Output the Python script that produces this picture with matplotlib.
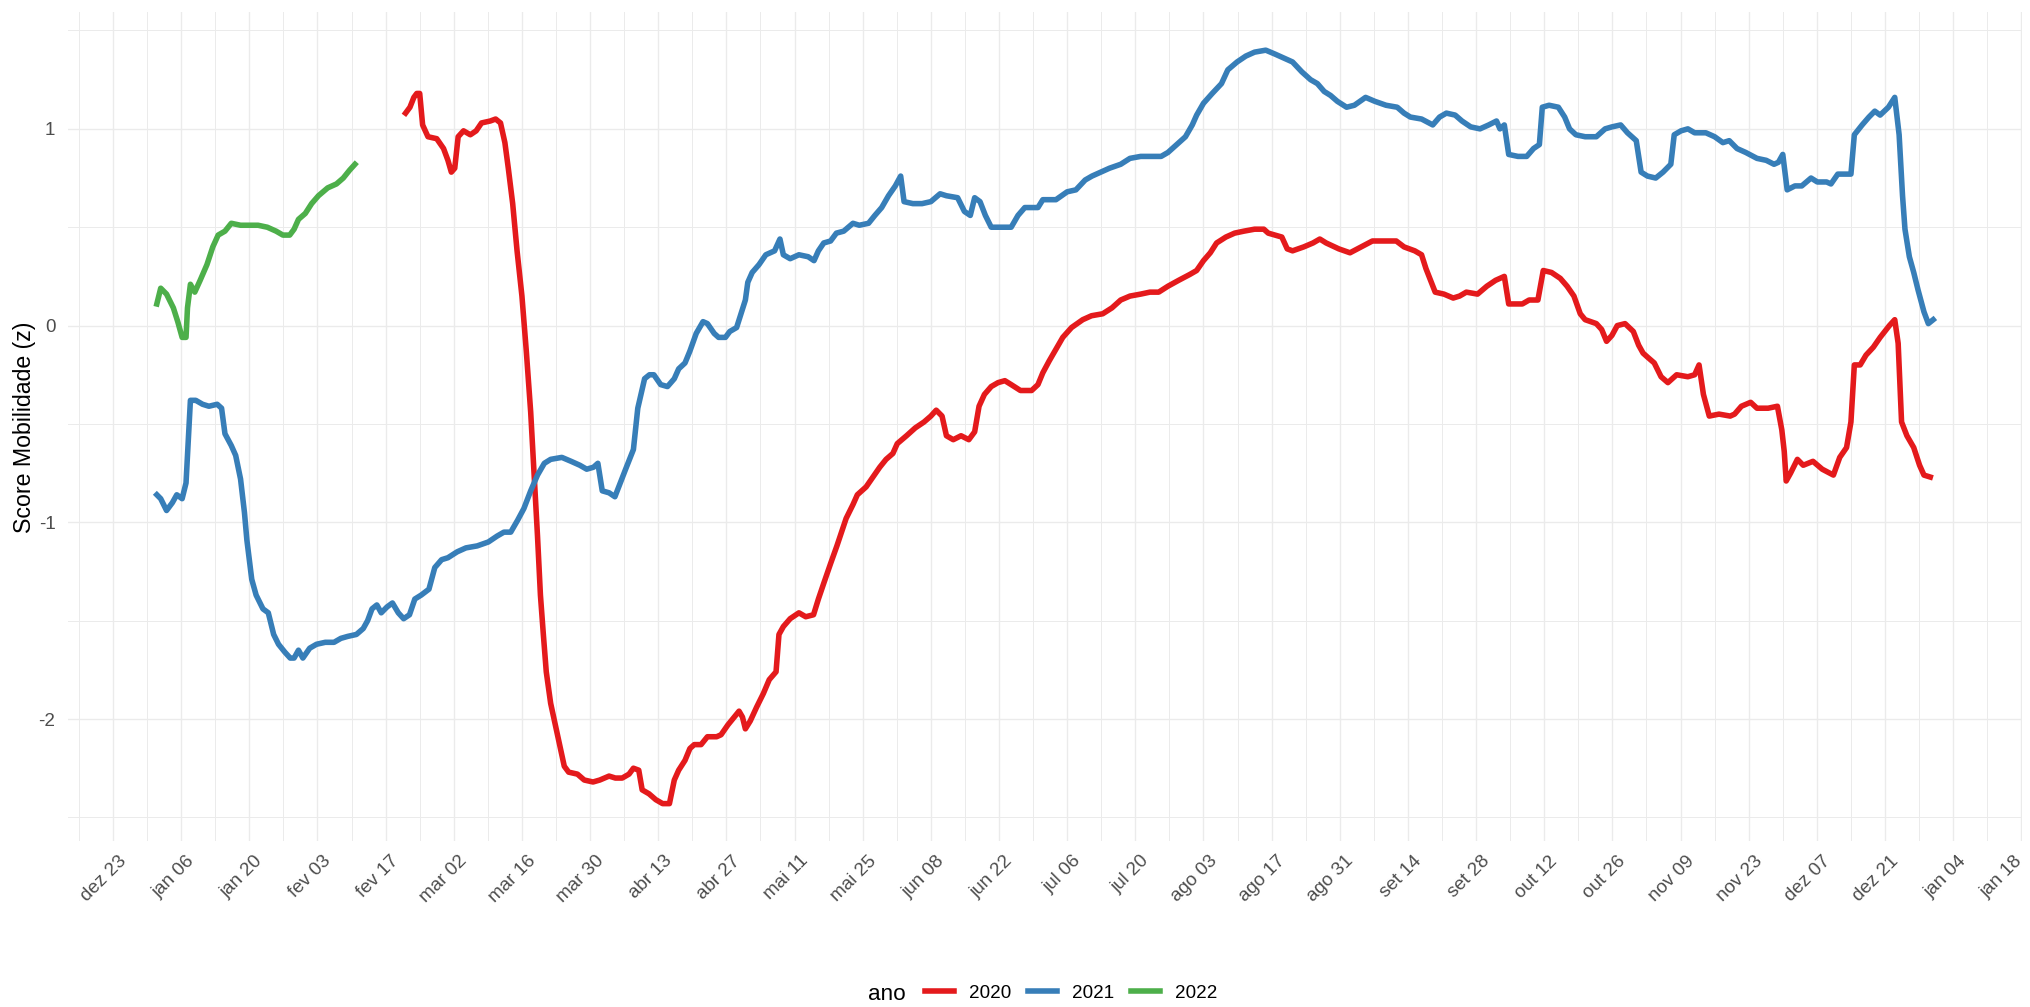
import pandas as pd
import matplotlib
matplotlib.use('Agg')
import matplotlib.pyplot as plt
from matplotlib.transforms import ScaledTranslation

plt.rcParams['font.family'] = ['Liberation Sans', 'DejaVu Sans']

# dias contados a partir de 1 de janeiro (ano de referencia 2020)
dia_2020 = [51.1, 52.0, 52.8, 53.4, 54.0, 54.6, 55.7, 57.5, 58.9, 59.8, 60.5, 61.2, 61.9, 63.0, 64.4,
            65.6, 66.7, 68.5, 69.6, 70.6, 71.5, 72.2, 73.1, 74.0, 75.0, 75.9, 76.8, 78.2, 78.8, 79.4,
            80.0, 80.9, 82.3, 83.7, 84.6, 86.4, 87.8, 89.6, 91.0, 92.9, 94.2, 95.6, 97.0, 97.9, 99.0,
            99.7, 101.1, 102.5, 103.9, 105.3, 106.3, 107.2, 108.5, 109.5, 110.4, 111.8, 113.1, 115.0,
            115.9, 117.3, 118.6, 119.6, 120.3, 120.9, 121.9, 123.2, 124.6, 125.8, 127.2, 127.8, 128.7,
            130.1, 131.9, 133.3, 134.9, 135.9, 137.0, 138.4, 139.7, 141.6, 143.0, 143.9, 145.7, 147.1,
            148.5, 149.8, 151.2, 152.1, 154.0, 155.8, 157.6, 159.0, 160.1, 161.3, 162.2, 163.6, 165.2,
            166.8, 168.0, 168.9, 170.0, 171.4, 172.8, 174.2, 175.5, 177.4, 179.7, 181.0, 182.0, 183.3,
            184.7, 186.1, 187.9, 190.2, 192.0, 194.3, 196.2, 198.0, 199.9, 202.1, 204.0, 205.8, 207.7,
            209.9, 212.2, 213.6, 215.0, 216.4, 217.7, 219.6, 221.4, 223.3, 225.5, 227.4, 228.3, 229.7,
            231.1, 232.2, 233.3, 235.6, 237.5, 238.9, 240.2, 242.8, 245.1, 247.4, 249.7, 252.0, 254.6,
            256.2, 258.4, 259.8, 260.7, 262.6, 264.4, 266.3, 267.6, 269.0, 271.3, 273.2, 275.0, 276.8,
            277.7, 280.5, 281.9, 283.7, 284.8, 286.5, 288.3, 289.7, 291.1, 292.4, 293.4, 295.7, 296.8,
            297.8, 298.9, 300.0, 301.6, 303.3, 304.4, 305.3, 306.2, 307.6, 309.0, 310.4, 312.2, 314.5,
            315.9, 316.8, 317.7, 318.9, 320.9, 323.2, 324.1, 325.5, 327.4, 328.7, 331.0, 332.9, 333.8,
            334.3, 334.7, 335.6, 337.0, 338.2, 340.2, 342.1, 344.4, 345.7, 347.1, 348.0, 348.7, 349.9,
            351.1, 352.6, 354.0, 355.9, 357.0, 357.7, 358.4, 359.5, 360.9, 362.1, 363.0, 364.3]
val_2020 = [1.08, 1.11, 1.16, 1.18, 1.18, 1.02, 0.96, 0.95, 0.90, 0.84, 0.78, 0.80, 0.96, 0.99, 0.97,
            0.99, 1.03, 1.04, 1.05, 1.03, 0.93, 0.80, 0.62, 0.38, 0.15, -0.13, -0.44, -1.07, -1.37, -1.57,
            -1.76, -1.92, -2.08, -2.24, -2.27, -2.28, -2.31, -2.32, -2.31, -2.29, -2.30, -2.30, -2.28, -2.25, -2.26,
            -2.36, -2.38, -2.41, -2.43, -2.43, -2.31, -2.26, -2.21, -2.15, -2.13, -2.13, -2.09, -2.09,
            -2.08, -2.03, -1.99, -1.96, -1.99, -2.05, -2.01, -1.94, -1.87, -1.80, -1.76, -1.57, -1.53,
            -1.49, -1.46, -1.48, -1.47, -1.39, -1.31, -1.21, -1.12, -0.98, -0.91, -0.86, -0.82, -0.77,
            -0.72, -0.68, -0.65, -0.60, -0.56, -0.52, -0.49, -0.46, -0.43, -0.46, -0.56, -0.58, -0.56,
            -0.58, -0.54, -0.41, -0.35, -0.31, -0.29, -0.28, -0.30, -0.33, -0.33, -0.30, -0.24, -0.18,
            -0.12, -0.06, -0.01, 0.03, 0.05, 0.06, 0.09, 0.13, 0.15, 0.16, 0.17, 0.17, 0.20,
            0.23, 0.26, 0.28, 0.33, 0.37, 0.42, 0.45, 0.47, 0.48, 0.49, 0.49, 0.47, 0.46,
            0.45, 0.39, 0.38, 0.40, 0.42, 0.44, 0.42, 0.39, 0.37, 0.40, 0.43, 0.43, 0.43,
            0.40, 0.38, 0.36, 0.29, 0.17, 0.16, 0.14, 0.15, 0.17, 0.16, 0.20, 0.23, 0.25,
            0.11, 0.11, 0.13, 0.13, 0.28, 0.27, 0.24, 0.20, 0.15, 0.06, 0.03, 0.01, -0.02,
            -0.08, -0.05, 0.00, 0.01, -0.03, -0.10, -0.14, -0.16, -0.19, -0.26, -0.29, -0.25, -0.26,
            -0.25, -0.20, -0.35, -0.46, -0.45, -0.46, -0.45, -0.41, -0.39, -0.42, -0.42, -0.41, -0.53,
            -0.64, -0.79, -0.75, -0.68, -0.71, -0.69, -0.73, -0.76, -0.67, -0.62, -0.49, -0.20, -0.20,
            -0.15, -0.11, -0.06, 0.00, 0.03, -0.09, -0.49, -0.56, -0.62, -0.71, -0.76, -0.77]

dia_2021 = [0.0, 0.8, 2.0, 3.2, 4.1, 5.2, 6.0, 6.3, 6.9, 8.0, 9.4, 10.7, 12.4, 13.3, 14.0, 15.3, 16.2,
            17.2, 18.0, 18.5, 19.5, 20.4, 21.8, 22.9, 24.0, 25.0, 26.3, 27.4, 28.2, 29.1, 30.0, 31.4,
            32.8, 34.6, 36.4, 37.8, 39.2, 41.0, 42.4, 43.3, 44.2, 45.2, 46.1, 47.3, 48.4, 49.6, 50.7,
            51.9, 53.0, 54.3, 55.9, 57.1, 58.5, 59.8, 61.7, 63.5, 65.8, 68.1, 69.9, 71.3, 72.7, 74.1,
            75.4, 76.8, 78.2, 79.6, 80.9, 83.2, 85.1, 86.9, 88.3, 89.7, 90.6, 91.5, 92.9, 94.1, 95.2,
            96.3, 97.9, 98.8, 100.2, 101.2, 102.1, 103.5, 104.9, 106.3, 107.2, 108.5, 109.5, 110.8,
            112.2, 113.1, 114.5, 115.4, 116.8, 117.7, 119.1, 120.0, 120.9, 121.4, 122.3, 123.7, 125.1,
            126.9, 128.0, 128.7, 130.1, 131.9, 133.8, 135.0, 135.9, 137.0, 138.4, 139.6, 141.1, 143.0,
            144.3, 146.2, 147.5, 148.9, 150.3, 151.7, 152.8, 153.5, 155.3, 157.2, 159.0, 160.9, 162.2,
            164.5, 165.9, 167.1, 168.0, 169.1, 170.2, 171.4, 173.7, 175.5, 176.9, 178.3, 181.0, 182.0,
            184.7, 187.0, 188.8, 190.7, 192.1, 193.9, 195.7, 198.0, 199.9, 202.1, 204.4, 206.3, 207.7,
            209.5, 211.3, 212.7, 213.6, 215.0, 216.8, 218.7, 220.0, 221.9, 223.7, 225.5, 227.8, 229.7,
            231.5, 233.3, 235.2, 237.0, 238.4, 239.8, 241.1, 242.5, 244.4, 246.0, 248.3, 250.2, 252.5,
            254.8, 256.2, 257.5, 259.8, 262.1, 263.5, 264.9, 266.7, 268.1, 269.9, 271.8, 273.6, 275.2,
            275.9, 276.8, 277.7, 279.6, 281.4, 282.8, 284.0, 284.6, 286.0, 287.9, 289.2, 290.2, 291.5,
            293.4, 295.7, 297.5, 298.9, 300.7, 302.1, 303.9, 304.9, 306.2, 307.9, 309.4, 311.0, 311.7,
            313.1, 314.5, 315.9, 318.2, 320.0, 321.7, 323.0, 324.6, 326.4, 328.7, 330.6, 332.2, 333.1,
            334.0, 334.9, 336.5, 337.9, 339.8, 341.1, 343.0, 343.9, 345.3, 348.0, 348.7, 350.3, 351.7,
            352.9, 354.0, 355.7, 357.0, 357.9, 358.6, 359.1, 360.0, 360.9, 361.8, 363.0, 363.9, 364.9]
val_2021 = [-0.86, -0.88, -0.94, -0.90, -0.86, -0.88, -0.80, -0.66, -0.38, -0.38, -0.40, -0.41, -0.40,
            -0.42, -0.55, -0.61, -0.66, -0.78, -0.95, -1.09, -1.29, -1.37, -1.44, -1.46, -1.57, -1.62,
            -1.66, -1.69, -1.69, -1.65, -1.69, -1.64, -1.62, -1.61, -1.61, -1.59, -1.58, -1.57, -1.54,
            -1.50, -1.44, -1.42, -1.46, -1.43, -1.41, -1.46, -1.49, -1.47, -1.39, -1.37, -1.34, -1.23,
            -1.19, -1.18, -1.15, -1.13, -1.12, -1.10, -1.07, -1.05, -1.05, -0.99, -0.93, -0.84, -0.76,
            -0.70, -0.68, -0.67, -0.69, -0.71, -0.73, -0.72, -0.70, -0.84, -0.85, -0.87, -0.80, -0.73,
            -0.63, -0.42, -0.27, -0.25, -0.25, -0.30, -0.31, -0.27, -0.22, -0.19, -0.13, -0.04, 0.02,
            0.01, -0.04, -0.06, -0.06, -0.03, -0.01, 0.06, 0.13, 0.22, 0.27, 0.31, 0.36, 0.38, 0.44,
            0.36, 0.34, 0.36, 0.35, 0.33, 0.38, 0.42, 0.43, 0.47, 0.48, 0.52, 0.51, 0.52, 0.56, 0.60,
            0.66, 0.71, 0.76, 0.63, 0.62, 0.62, 0.63, 0.67, 0.66, 0.65, 0.58, 0.56, 0.65, 0.63, 0.56,
            0.50, 0.50, 0.50, 0.56, 0.60, 0.60, 0.64, 0.64, 0.68, 0.69, 0.74, 0.76, 0.78, 0.80, 0.82,
            0.85, 0.86, 0.86, 0.86, 0.88, 0.92, 0.96, 1.02, 1.07, 1.13, 1.18, 1.23, 1.30, 1.34, 1.37,
            1.39, 1.40, 1.38, 1.36, 1.34, 1.29, 1.25, 1.23, 1.19, 1.17, 1.14, 1.11, 1.12, 1.16, 1.14,
            1.12, 1.11, 1.08, 1.06, 1.05, 1.02, 1.06, 1.08, 1.07, 1.04, 1.01, 1.00, 1.02, 1.04, 1.00,
            1.02, 0.87, 0.86, 0.86, 0.90, 0.92, 1.11, 1.12, 1.11, 1.06, 1.00, 0.97, 0.96, 0.96, 1.00,
            1.01, 1.02, 0.98, 0.94, 0.78, 0.76, 0.75, 0.78, 0.82, 0.97, 0.99, 1.00, 0.98, 0.98, 0.96,
            0.93, 0.94, 0.90, 0.88, 0.85, 0.84, 0.82, 0.83, 0.87, 0.69, 0.71, 0.71, 0.75, 0.73, 0.73,
            0.72, 0.77, 0.77, 0.97, 1.02, 1.06, 1.09, 1.07, 1.11, 1.16, 0.97, 0.66, 0.49, 0.35, 0.27,
            0.18, 0.07, 0.01, 0.03]

dia_2022 = [0.0, 0.8, 2.0, 3.4, 4.3, 5.2, 6.0, 6.3, 6.9, 7.8, 8.9, 10.3, 11.5, 12.6, 14.0, 15.3, 17.2,
            19.0, 20.8, 22.7, 24.5, 25.9, 27.3, 28.2, 29.1, 30.5, 31.8, 33.2, 35.1, 36.9, 38.3, 39.6, 40.7]
val_2022 = [0.11, 0.19, 0.16, 0.09, 0.02, -0.06, -0.06, 0.09, 0.21, 0.17, 0.23, 0.31, 0.40, 0.46, 0.48,
            0.52, 0.51, 0.51, 0.51, 0.50, 0.48, 0.46, 0.46, 0.49, 0.54, 0.57, 0.62, 0.66, 0.70, 0.72,
            0.75, 0.79, 0.82]

anos = ['2020', '2021', '2022']
cores = ['#E41A1C', '#377EB8', '#4DAF4A']
meses = ['jan', 'fev', 'mar', 'abr', 'mai', 'jun', 'jul', 'ago', 'set', 'out', 'nov', 'dez']

base = pd.Timestamp('2020-01-01')
series = [(dia_2020, val_2020), (dia_2021, val_2021), (dia_2022, val_2022)]

fig = plt.figure(figsize=(20.31, 10.07), dpi=100)
ax = fig.add_axes([0.03348, 0.16455, 0.9621, 0.82304])

for (dias, vals), ano, cor in zip(series, anos, cores):
    datas = base + pd.to_timedelta(dias, unit='D')
    ax.plot(datas, vals, color=cor, lw=4.0, solid_joinstyle='round', label=ano)

# limites com expansao de 5% (como no ggplot)
todos_dias = dia_2020 + dia_2021 + dia_2022
todos_vals = val_2020 + val_2021 + val_2022
dmin, dmax = min(todos_dias), max(todos_dias)
vmin, vmax = min(todos_vals), max(todos_vals)
ex = 0.05 * (dmax - dmin)
ey = 0.05 * (vmax - vmin)
ax.set_xlim(base + pd.Timedelta(days=dmin - ex), base + pd.Timedelta(days=dmax + ex))
ax.set_ylim(vmin - ey, vmax + ey)

maiores = pd.date_range('2019-12-23', '2021-01-18', freq='14D')
menores = pd.date_range('2019-12-16', '2021-01-11', freq='14D')
ax.set_xticks(maiores)
ax.set_xticklabels([f"{meses[d.month - 1]} {d.day:02d}" for d in maiores],
                   rotation=45, ha='right', va='top', rotation_mode='anchor')
ax.set_xticks(menores, minor=True)
ax.set_yticks([-2, -1, 0, 1])
ax.set_yticklabels(['-2', '-1', '0', '1'])
ax.set_yticks([-2.5, -1.5, -0.5, 0.5, 1.5], minor=True)

ax.grid(which='major', color='#EBEBEB', lw=1.0)
ax.grid(which='minor', color='#EBEBEB', lw=0.7)
ax.set_axisbelow(True)
for s in ax.spines.values():
    s.set_visible(False)
ax.tick_params(which='both', length=0, labelsize=13.6, labelcolor='#4D4D4D')
ax.tick_params(axis='y', pad=9)
ax.tick_params(axis='x', pad=8)
rotulos = ax.get_xticklabels()
for rot in rotulos[:-1]:
    rot.set_transform(rot.get_transform() + ScaledTranslation(5 / 100, 0, fig.dpi_scale_trans))
# o ultimo rotulo fica encostado na borda; puxa um pouco para dentro
rotulos[-1].set_transform(rotulos[-1].get_transform() + ScaledTranslation(-8 / 100, 0, fig.dpi_scale_trans))

ax.set_ylabel('Score Mobilidade (z)', fontsize=16.7, color='black')
ax.yaxis.set_label_coords(-0.0165, 0.5)

h, l = ax.get_legend_handles_labels()
fig.legend(h, l, loc='center', bbox_to_anchor=(0.5273, 1 - 993 / 1007), ncol=3, frameon=False,
           fontsize=13.6, handlelength=1.53, handletextpad=0.79, columnspacing=0.9)
fig.text(868 / 2031, 1 - 994 / 1007, 'ano', fontsize=16.2, ha='left', va='center')

fig.savefig('out.png', dpi=100, facecolor='white')
